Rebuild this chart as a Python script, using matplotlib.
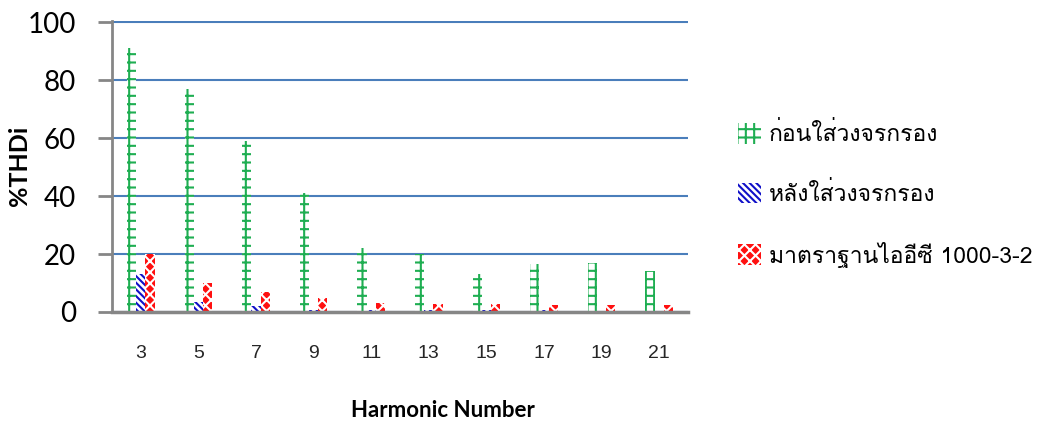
import numpy as np
import matplotlib
matplotlib.use('Agg')
import matplotlib.pyplot as plt
from matplotlib import font_manager
from matplotlib.ft2font import FT2Font
from matplotlib.patches import Patch

harmonics = [3, 5, 7, 9, 11, 13, 15, 17, 19, 21]
before_filter = [91, 77, 59, 41, 22, 20, 13, 16.5, 17, 14]
after_filter = [13, 3.5, 2, 0.7, 0.8, 0.6, 0.8, 0.8, 0.3, 0.3]
iec_limit = [20, 10, 7, 5, 3, 2.7, 2.7, 2.5, 2.5, 2.5]
labels = ['ก่อนใส่วงจรกรอง', 'หลังใส่วงจรกรอง', 'มาตราฐานไออีซี 1000-3-2']


# find an installed font that has Thai glyphs
def thai_font():
    for f in font_manager.fontManager.ttflist:
        try:
            if 0x0E01 in FT2Font(f.fname).get_charmap():
                return f.name
        except Exception:
            pass
    return 'DejaVu Sans'


thai = thai_font()
plt.rcParams['hatch.linewidth'] = 1.5

green = '#1fae52'
blue = '#1010c8'
red = '#ff1010'

fig = plt.figure(figsize=(10.46, 4.23), dpi=100)
ax = fig.add_axes([112 / 1046, 1 - 312 / 423, 576 / 1046, 291 / 423])

x = np.arange(len(harmonics))
w = 0.16
ax.bar(x - w, before_filter, w, color='white', edgecolor=green, hatch='++', linewidth=0, zorder=3)
ax.bar(x, after_filter, w, color='white', edgecolor=blue, hatch='\\' * 5, linewidth=0, zorder=3)
ax.bar(x + w, iec_limit, w, color=red, edgecolor='white', hatch='xxx', linewidth=0, zorder=3)

ax.set_xlim(-0.5, len(harmonics) - 0.5)
ax.set_ylim(0, 100.4)
ax.set_yticks(range(0, 101, 20))
ax.set_xticks(x)
ax.set_xticklabels(harmonics, fontsize=14, family='Liberation Sans', color='#262626')
ax.tick_params(axis='x', length=0, pad=24)
ax.tick_params(axis='y', length=10, width=2, color='#868686', pad=16, labelsize=20)
for t in ax.get_yticklabels():
    t.set_family('Lato')
ax.yaxis.grid(True, color='#4a7ebb', linewidth=1.5, zorder=0)
ax.set_axisbelow(True)
for s in ['top', 'right']:
    ax.spines[s].set_visible(False)
ax.spines['left'].set_color('#868686')
ax.spines['left'].set_linewidth(2)
ax.spines['bottom'].set_color('#868686')
ax.spines['bottom'].set_linewidth(2.5)
ax.spines['bottom'].set_zorder(4)

fig.text(19 / 1046, 1 - 166 / 423, '%THDi', rotation=90, ha='center', va='center',
         fontsize=18, fontweight='bold', family='Lato')
fig.text(443 / 1046, 1 - 410 / 423, 'Harmonic Number', ha='center', va='center',
         fontsize=16, fontweight='bold', family='Lato')

handles = [
    Patch(facecolor='white', edgecolor=green, hatch='++', linewidth=0),
    Patch(facecolor='white', edgecolor=blue, hatch='\\' * 5, linewidth=0),
    Patch(facecolor=red, edgecolor='white', hatch='xxx', linewidth=0),
]
fig.legend(handles, labels, loc='center left', bbox_to_anchor=(738 / 1046, 1 - 195 / 423),
           frameon=False, borderpad=0, borderaxespad=0,
           prop={'family': [thai, 'DejaVu Sans'], 'size': 16.5},
           handlelength=1.0, handleheight=1.0, handletextpad=0.35, labelspacing=1.55)

fig.savefig('out.png', dpi=100)
